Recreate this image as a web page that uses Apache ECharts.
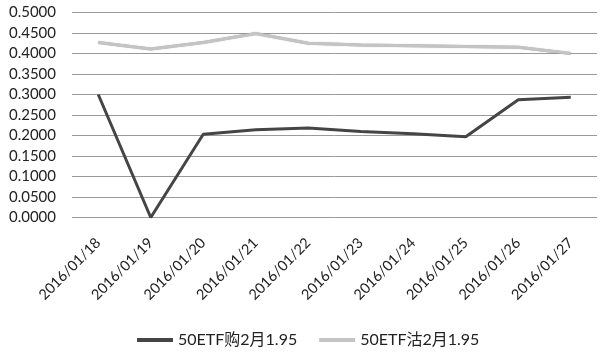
<!DOCTYPE html>
<html><head><meta charset="utf-8">
<script src="https://cdn.jsdelivr.net/npm/echarts@6/dist/echarts.min.js"></script>
<style>html,body{margin:0;padding:0;background:#fff}#c{width:600px;height:361px}</style>
</head><body><div id="c"></div>
<script>
const categories = ['2016/01/18','2016/01/19','2016/01/20','2016/01/21','2016/01/22','2016/01/23','2016/01/24','2016/01/25','2016/01/26','2016/01/27'];
const callName = '50ETF购2月1.95';
const putName = '50ETF沽2月1.95';
const callValues = [0.300, 0.000, 0.203, 0.214, 0.218, 0.210, 0.204, 0.197, 0.287, 0.293];
const putValues = [0.427, 0.411, 0.427, 0.449, 0.425, 0.421, 0.419, 0.417, 0.415, 0.400];
const yMin = 0, yMax = 0.5, yStep = 0.05;

const font = "Lato, 'Noto Sans CJK SC', sans-serif";
const chart = echarts.init(document.getElementById('c'), null, {renderer: 'canvas'});
chart.setOption({
  animation: false,
  backgroundColor: '#fff',
  grid: {left: 72, right: 3, top: 12.5, bottom: 143.5, containLabel: false},
  xAxis: {
    type: 'category', data: categories, boundaryGap: true,
    axisLine: {show: false}, axisTick: {show: false},
    axisLabel: {rotate: 45, fontSize: 14.5, color: '#222', fontFamily: font, margin: 23}
  },
  yAxis: {
    type: 'value', min: yMin, max: yMax, interval: yStep,
    axisLine: {show: false}, axisTick: {show: false},
    splitLine: {lineStyle: {color: '#9a9a9a', width: 1}},
    axisLabel: {fontSize: 15, color: '#222', fontFamily: font, margin: 16,
      formatter: v => v.toFixed(4)}
  },
  legend: {
    bottom: 8, left: 132, itemWidth: 36, itemHeight: 4, itemGap: 22, icon: 'rect',
    textStyle: {fontSize: 16, color: '#222', fontFamily: font},
    data: [callName, putName]
  },
  series: [
    {name: callName, type: 'line', data: callValues, symbol: 'none',
      lineStyle: {color: '#454545', width: 3}, itemStyle: {color: '#454545'}},
    {name: putName, type: 'line', data: putValues, symbol: 'none',
      lineStyle: {color: '#c4c4c4', width: 3, shadowColor: 'rgba(0,0,0,0.35)', shadowBlur: 1}, itemStyle: {color: '#c4c4c4'}}
  ]
});
</script></body></html>
